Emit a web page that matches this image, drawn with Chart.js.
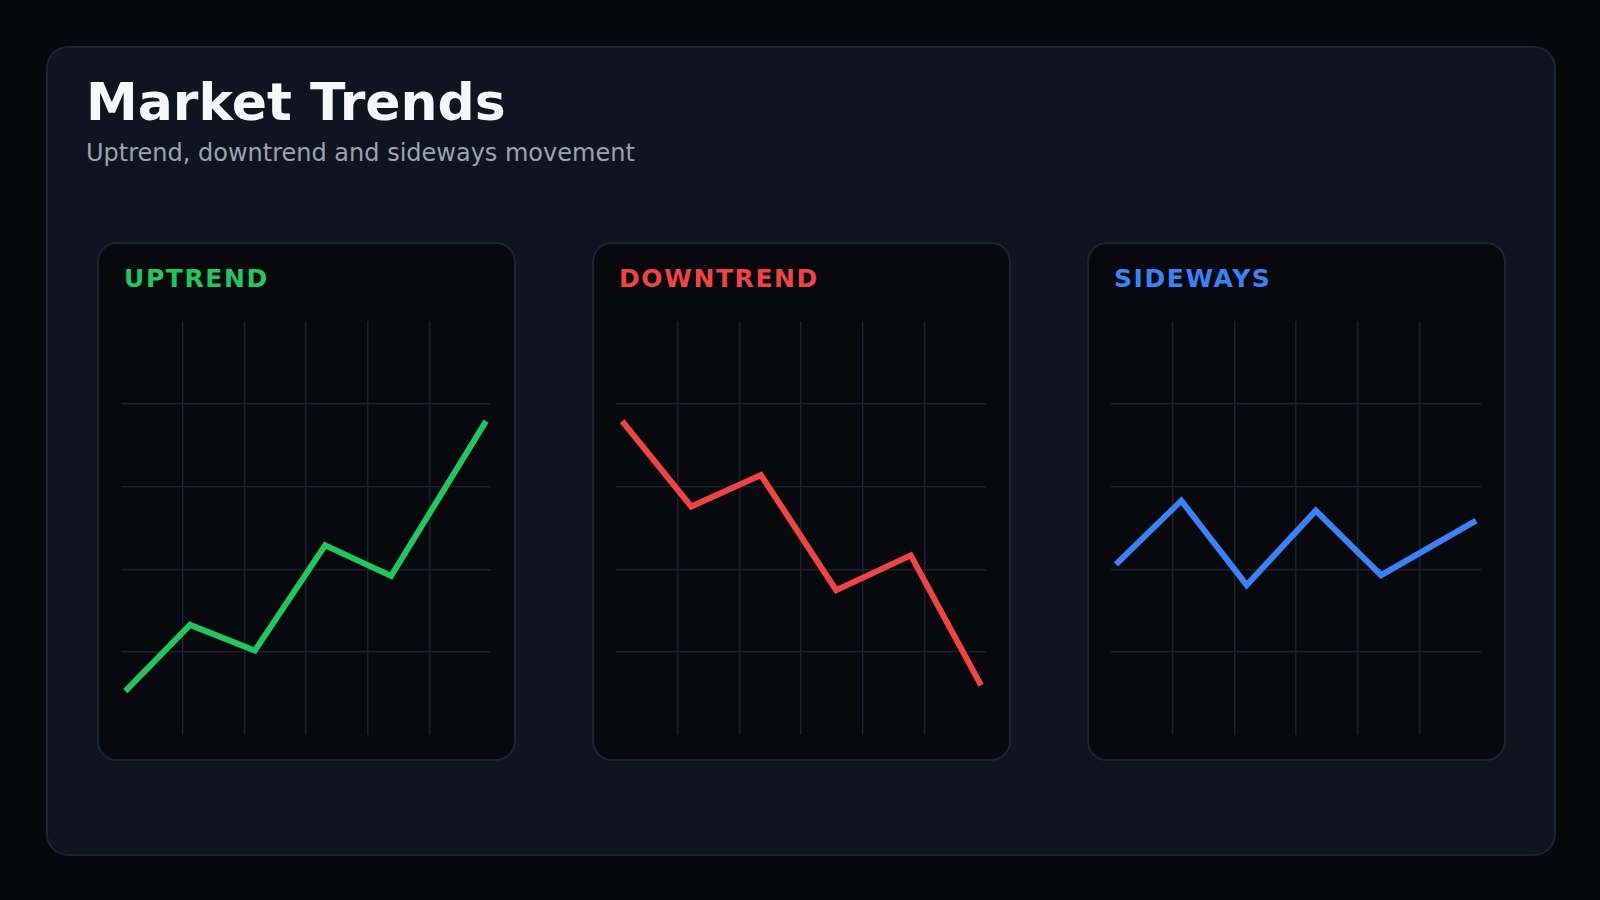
<!DOCTYPE html>
<html><head><meta charset="utf-8">
<script src="https://cdn.jsdelivr.net/npm/chart.js@4"></script>
<style>
  html,body{margin:0;background:#06080c;width:1600px;height:900px;overflow:hidden;font-family:"DejaVu Sans",sans-serif}
  .card{position:absolute;left:46px;top:46px;width:1506px;height:806px;background:#0f1420;border:2px solid #1c2332;border-radius:22px}
  h1{position:absolute;left:38px;top:24px;margin:0;color:#f5f7fa;font-size:52px;font-weight:bold}
  .sub{position:absolute;left:38px;top:91px;color:#9aa3b2;font-size:24px}
  .panel{position:absolute;top:194px;width:415px;height:515px;background:#07090e;border:2px solid #1c2332;border-radius:20px}
  .lbl{position:absolute;left:25px;top:20px;font-size:25px;font-weight:bold;letter-spacing:1.6px}
  .plot{position:absolute;left:22px;top:77px;width:370px;height:414px}
</style></head><body>
<div class="card">
  <h1>Market Trends</h1>
  <div class="sub">Uptrend, downtrend and sideways movement</div>
  <div class="panel" style="left:49px"><div class="lbl" style="color:#22c55e">UPTREND</div><div class="plot"><canvas id="c0"></canvas></div></div>
  <div class="panel" style="left:544px"><div class="lbl" style="color:#ef4444">DOWNTREND</div><div class="plot"><canvas id="c1"></canvas></div></div>
  <div class="panel" style="left:1039px"><div class="lbl" style="color:#3b82f6">SIDEWAYS</div><div class="plot"><canvas id="c2"></canvas></div></div>
</div>
<script>
// positions along the x axis (0..6) and values (0..5)
const upX = [0.07, 1.12, 2.17, 3.31, 4.38, 5.92];
const upY = [0.53, 1.33, 1.02, 2.29, 1.92, 3.79];
const downX = [0.10, 1.22, 2.35, 3.57, 4.78, 5.92];
const downY = [3.79, 2.76, 3.14, 1.75, 2.17, 0.60];
const sideX = [0.08, 1.14, 2.20, 3.32, 4.38, 5.92];
const sideY = [2.06, 2.83, 1.81, 2.71, 1.93, 2.59];

const series = [
  { id: 'c0', xs: upX, ys: upY, color: '#22c55e' },
  { id: 'c1', xs: downX, ys: downY, color: '#ef4444' },
  { id: 'c2', xs: sideX, ys: sideY, color: '#3b82f6' }
];

const gridColor = (min, max) => ctx =>
  (ctx.tick && (ctx.tick.value === min || ctx.tick.value === max)) ? 'rgba(0,0,0,0)' : '#1a2130';

series.forEach(s => {
  new Chart(document.getElementById(s.id), {
    type: 'line',
    data: {
      datasets: [{
        data: s.xs.map((x, i) => ({ x, y: s.ys[i] })),
        borderColor: s.color,
        borderWidth: 6,
        pointRadius: 0,
        tension: 0,
        clip: false
      }]
    },
    options: {
      responsive: true,
      maintainAspectRatio: false,
      animation: false,
      layout: { padding: 0 },
      scales: {
        x: {
          type: 'linear', min: 0, max: 6,
          ticks: { display: false, stepSize: 1 },
          border: { display: false },
          grid: { color: gridColor(0, 6), lineWidth: 1.5, drawTicks: false }
        },
        y: {
          min: 0, max: 5,
          ticks: { display: false, stepSize: 1 },
          border: { display: false },
          grid: { color: gridColor(0, 5), lineWidth: 1.5, drawTicks: false }
        }
      },
      plugins: { legend: { display: false }, tooltip: { enabled: false } }
    }
  });
});
</script>
</body></html>
